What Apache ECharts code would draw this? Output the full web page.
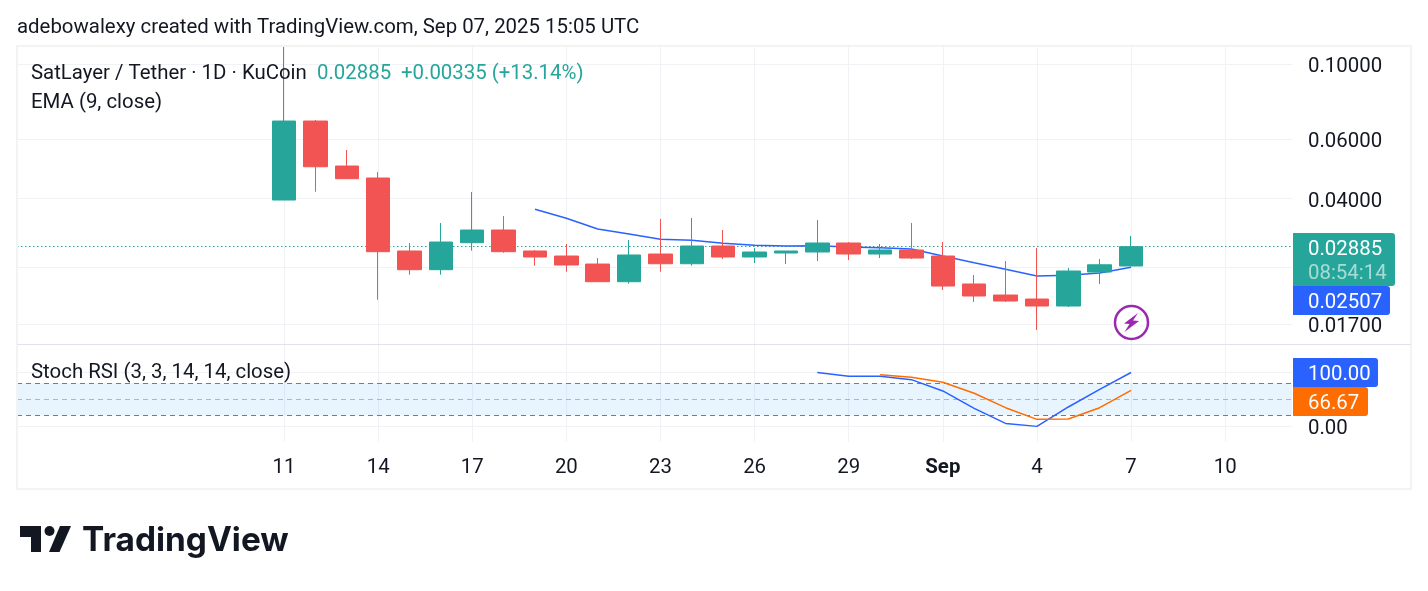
<!DOCTYPE html>
<html>
<head>
<meta charset="utf-8">
<title>SatLayer / Tether</title>
<script src="https://cdn.jsdelivr.net/npm/echarts@6/dist/echarts.min.js"></script>
<style>
  html, body { margin: 0; padding: 0; background: #fff; }
  #main { width: 1428px; height: 591px; }
</style>
</head>
<body>
<div id="main"></div>
<script>
// daily candles
var dates = ['2025-08-11','2025-08-12','2025-08-13','2025-08-14','2025-08-15','2025-08-16','2025-08-17',
  '2025-08-18','2025-08-19','2025-08-20','2025-08-21','2025-08-22','2025-08-23','2025-08-24','2025-08-25',
  '2025-08-26','2025-08-27','2025-08-28','2025-08-29','2025-08-30','2025-08-31','2025-09-01','2025-09-02',
  '2025-09-03','2025-09-04','2025-09-05','2025-09-06','2025-09-07'];
var opens = [0.03965,0.06794,0.04999,0.04607,0.02801,0.02466,0.02964,0.03232,0.02801,0.02707,0.02563,0.02272,0.02744,0.02568,
  0.02898,0.02689,0.02763,0.02782,0.02958,0.02744,0.02820,0.02707,0.02237,0.02075,0.02019,0.01925,0.02427,0.02529];
var closes = [0.06794,0.04975,0.04585,0.02788,0.02466,0.02978,0.03232,0.02788,0.02689,0.02546,0.02272,0.02726,0.02568,0.02898,
  0.02689,0.02782,0.02801,0.02958,0.02744,0.02820,0.02670,0.02206,0.02061,0.01992,0.01925,0.02444,0.02550,0.02885];
var lows = [0.03965,0.04196,0.04585,0.02010,0.02383,0.02383,0.02807,0.02768,0.02534,0.02432,0.02272,0.02241,0.02432,0.02534,
  0.02652,0.02581,0.02563,0.02616,0.02634,0.02670,0.02652,0.02147,0.01979,0.01979,0.01635,0.01912,0.02237,0.02529];
// the first wick runs off the top of the pane
var highs = [0.11330,0.06841,0.05576,0.04799,0.02958,0.03390,0.04187,0.03555,0.02820,0.02938,0.02670,0.03019,0.03484,0.03507,
  0.03232,0.02858,0.02801,0.03460,0.02978,0.02938,0.03390,0.02978,0.02378,0.02616,0.02858,0.02495,0.02652,0.03103];

// EMA starts on Aug 19, Stoch K on Aug 28, Stoch D on Aug 30
var emaValues = [0.03722,0.03500,0.03254,0.03145,0.03033,0.03013,0.02952,0.02912,0.02898,0.02904,
  0.02878,0.02865,0.02839,0.02707,0.02586,0.02472,0.02362,0.02373,0.02411,0.02507];
var stochK = [100,93,93,86.7,65.7,33.5,5.5,0,36,68.8,100];
var stochD = [96,91,81.8,61.4,34.7,13,13.6,34.7,66.67];

var priceTicks = [0.1,0.06,0.04,0.025,0.017];
var priceLabels = [0.1,0.06,0.04,0.017];
var lastPrice = 0.02885;
var stochTicks = [0,100];
var stochBand = [20,50,80];
var timeTicks = ['2025-08-11','2025-08-14','2025-08-17','2025-08-20','2025-08-23','2025-08-26','2025-08-29',
  '2025-09-01','2025-09-04','2025-09-07','2025-09-10'];
var monthNames = ['Jan','Feb','Mar','Apr','May','Jun','Jul','Aug','Sep','Oct','Nov','Dec'];

var UP = '#26a69a', DOWN = '#f25353', BLUE = '#2962ff', ORANGE = '#ff6d00';
var INK = '#131722', GRID = '#f1f2f5', FRAME = '#f3f3f3', FONT = 'Roboto', SIZE = 20.4;
var DAY = 86400000;

function ts(d) { return Date.parse(d); }
function zip(from, values) {
  return values.map(function (v, i) { return [ts(dates[from + i]), v]; });
}

var xMin = ts(dates[0]) - 8.511 * DAY;
var xMax = ts(dates[0]) + 32.13 * DAY;
var tickStamps = timeTicks.map(ts);

function xAxis(gridIndex, withLabels) {
  return {
    type: 'value', gridIndex: gridIndex, min: xMin, max: xMax,
    axisLine: { show: false },
    axisTick: { show: false, customValues: tickStamps },
    splitLine: { show: true, lineStyle: { color: GRID, width: 1 } },
    axisLabel: {
      show: withLabels, customValues: tickStamps, margin: 16, color: INK, fontFamily: FONT, fontSize: SIZE,
      hideOverlap: false,
      formatter: function (v) {
        var d = new Date(v);
        if (d.getUTCDate() === 1) return '{m|' + monthNames[d.getUTCMonth()] + '}';
        return String(d.getUTCDate());
      },
      rich: { m: { fontFamily: FONT, fontSize: SIZE, fontWeight: 700, color: INK } }
    }
  };
}

// right scale label, nudged down a little through a rich token
function yLabel(values, digits) {
  return {
    customValues: values, margin: 16, color: INK, fontFamily: FONT, fontSize: SIZE,
    formatter: function (v) { return '{p|' + v.toFixed(digits) + '}'; },
    rich: { p: { fontFamily: FONT, fontSize: SIZE, color: INK, padding: [6, 0, 0, 0] } }
  };
}

function text(x, y, str, color) {
  return { type: 'text', z: 20, style: { x: x, y: y, text: str, fill: color, font: SIZE + 'px ' + FONT, textVerticalAlign: 'middle' } };
}
function tag(x, y, w, h, color) {
  return { type: 'rect', z: 15, shape: { x: x, y: y, width: w, height: h, r: [0,3,3,0] }, style: { fill: color } };
}

var myChart = echarts.init(document.getElementById('main'));

myChart.setOption({
  animation: false,
  backgroundColor: '#fff',
  textStyle: { fontFamily: FONT },
  title: {
    text: 'adebowalexy created with TradingView.com, Sep 07, 2025 15:05 UTC',
    left: 17, top: 18, padding: 0,
    textStyle: { fontFamily: FONT, fontSize: SIZE, fontWeight: 400, color: INK }
  },
  grid: [
    { left: 17, top: 46, width: 1275, height: 298 },
    { left: 17, top: 345, width: 1275, height: 97 }
  ],
  xAxis: [xAxis(0, false), xAxis(1, true)],
  yAxis: [
    {
      type: 'log', gridIndex: 0, position: 'right', min: 0.01486, max: 0.1133,
      axisLine: { show: false },
      axisTick: { show: false, customValues: priceTicks },
      splitLine: { show: true, lineStyle: { color: GRID, width: 1 } },
      axisLabel: yLabel(priceLabels, 5)
    },
    {
      type: 'value', gridIndex: 1, position: 'right', min: -29, max: 151,
      axisLine: { show: false },
      axisTick: { show: false, customValues: stochTicks },
      splitLine: { show: true, lineStyle: { color: GRID, width: 1 } },
      axisLabel: yLabel([0], 2)
    }
  ],
  series: [
    {
      name: 'EMA', type: 'line', z: 2, xAxisIndex: 0, yAxisIndex: 0,
      data: zip(8, emaValues), showSymbol: false, silent: true,
      lineStyle: { color: BLUE, width: 1.5 },
      markLine: {
        silent: true, symbol: 'none', label: { show: false }, z: 1, precision: 5,
        lineStyle: { color: UP, type: [1.5, 2.5], width: 1 },
        data: [{ yAxis: lastPrice }]
      }
    },
    {
      name: 'SatLayer / Tether', type: 'candlestick', z: 3, xAxisIndex: 0, yAxisIndex: 0,
      barWidth: 24, clip: true,
      data: dates.map(function (d, i) { return [ts(d), opens[i], closes[i], lows[i], highs[i]]; }),
      itemStyle: { color: UP, color0: DOWN, borderColor: UP, borderColor0: DOWN, borderWidth: 1 }
    },
    {
      name: '%K', type: 'line', z: 3, xAxisIndex: 1, yAxisIndex: 1,
      data: zip(17, stochK), showSymbol: false, silent: true,
      lineStyle: { color: BLUE, width: 1.5 },
      markArea: {
        silent: true, z: 1,
        itemStyle: { color: 'rgba(33,150,243,0.1)' },
        data: [[{ yAxis: stochBand[0] }, { yAxis: stochBand[2] }]]
      },
      markLine: {
        silent: true, symbol: 'none', label: { show: false }, z: 2,
        data: [
          { yAxis: stochBand[0], lineStyle: { color: '#787b86', type: [5, 4], width: 1 } },
          { yAxis: stochBand[1], lineStyle: { color: '#b2b5be', type: [5, 4], width: 1 } },
          { yAxis: stochBand[2], lineStyle: { color: '#787b86', type: [5, 4], width: 1 } }
        ]
      }
    },
    {
      name: '%D', type: 'line', z: 4, xAxisIndex: 1, yAxisIndex: 1,
      data: zip(19, stochD), showSymbol: false, silent: true,
      lineStyle: { color: ORANGE, width: 1.5 }
    }
  ],
  graphic: [
    // frame and pane separator
    { type: 'rect', z: 5, shape: { x: 17, y: 46, width: 1394, height: 443 }, style: { fill: 'none', stroke: FRAME, lineWidth: 2 } },
    { type: 'line', z: 5, shape: { x1: 17, y1: 344.5, x2: 1411, y2: 344.5 }, style: { stroke: '#e0e3eb', lineWidth: 1 } },

    // legends
    text(31, 74, 'SatLayer / Tether · 1D · KuCoin', INK),
    text(317, 74, '0.02885', UP),
    text(401, 74, '+0.00335 (+13.14%)', UP),
    text(31, 103, 'EMA (9, close)', INK),
    text(31, 373, 'Stoch RSI (3, 3, 14, 14, close)', INK),

    // price tags on the scale
    tag(1293, 233, 102, 53, UP),
    text(1308, 250, '0.02885', '#fff'),
    text(1308, 274, '08:54:14', 'rgba(255,255,255,0.6)'),
    tag(1293, 286, 97, 29, BLUE),
    text(1308, 303, '0.02507', '#fff'),
    tag(1293, 358, 85, 29, BLUE),
    text(1308, 375, '100.00', '#fff'),
    tag(1293, 387, 75, 29, ORANGE),
    text(1308, 403.5, '66.67', '#fff'),

    // lightning badge
    { type: 'circle', z: 15, shape: { cx: 1131.5, cy: 322.5, r: 16.5 }, style: { fill: '#fff', stroke: '#9c27b0', lineWidth: 2.5 } },
    { type: 'polygon', z: 16, shape: { points: [[1138,313],[1124,323.5],[1129.5,324],[1124.5,332],[1139,321],[1133,320.5]] }, style: { fill: '#9c27b0' } },

    // logo
    { type: 'polygon', z: 15, shape: { points: [[20,526],[41,526],[41,552],[31,552],[31,537],[20,537]] }, style: { fill: INK } },
    { type: 'circle', z: 15, shape: { cx: 49.5, cy: 531, r: 5 }, style: { fill: INK } },
    { type: 'polygon', z: 15, shape: { points: [[60,526],[71,526],[59.5,552],[49,552]] }, style: { fill: INK } },
    { type: 'text', z: 15, style: { x: 82, y: 541, text: 'TradingView', fill: INK, font: '700 33.4px Inter', textVerticalAlign: 'middle' } }
  ]
});
</script>
</body>
</html>
